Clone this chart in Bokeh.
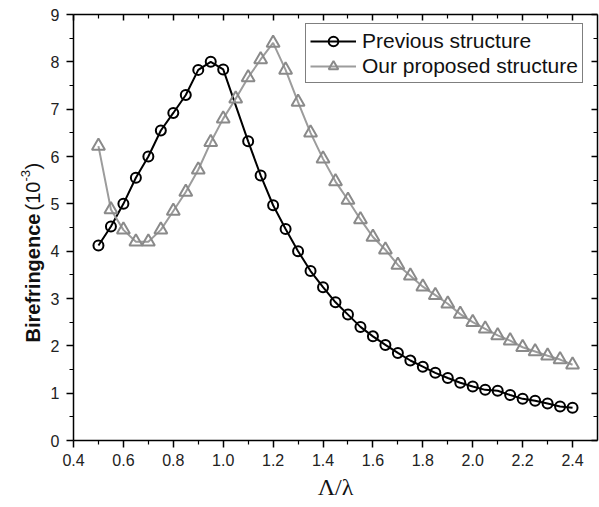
import math
from bokeh.plotting import figure
from bokeh.models import (Range1d, LinearAxis, FixedTicker, PrintfTickFormatter,
                          Legend, LegendItem, Label, CustomLabelingPolicy)
from bokeh.embed import file_html
from bokeh.resources import INLINE

# ---- data ----
x_prev = [0.50, 0.55, 0.60, 0.65, 0.70, 0.75, 0.80, 0.85, 0.90, 0.95, 1.00,
          1.10, 1.15, 1.20, 1.25, 1.30, 1.35, 1.40, 1.45, 1.50, 1.55, 1.60,
          1.65, 1.70, 1.75, 1.80, 1.85, 1.90, 1.95, 2.00, 2.05, 2.10, 2.15,
          2.20, 2.25, 2.30, 2.35, 2.40]
y_prev = [4.12, 4.52, 5.00, 5.55, 6.00, 6.55, 6.92, 7.30, 7.83, 8.00, 7.84,
          6.32, 5.60, 4.97, 4.47, 4.00, 3.58, 3.24, 2.92, 2.66, 2.40, 2.20,
          2.02, 1.85, 1.69, 1.56, 1.43, 1.32, 1.22, 1.14, 1.07, 1.05, 0.96,
          0.88, 0.84, 0.78, 0.72, 0.69]

x_prop = [0.50, 0.55, 0.60, 0.65, 0.70, 0.75, 0.80, 0.85, 0.90, 0.95, 1.00,
          1.05, 1.10, 1.15, 1.20, 1.25, 1.30, 1.35, 1.40, 1.45, 1.50, 1.55,
          1.60, 1.65, 1.70, 1.75, 1.80, 1.85, 1.90, 1.95, 2.00, 2.05, 2.10,
          2.15, 2.20, 2.25, 2.30, 2.35, 2.40]
y_prop = [6.22, 4.88, 4.45, 4.20, 4.20, 4.45, 4.85, 5.25, 5.72, 6.30, 6.80,
          7.22, 7.67, 8.05, 8.40, 7.83, 7.15, 6.50, 5.95, 5.47, 5.08, 4.67,
          4.30, 4.03, 3.71, 3.48, 3.25, 3.07, 2.89, 2.67, 2.50, 2.36, 2.22,
          2.11, 1.97, 1.88, 1.79, 1.71, 1.60]

series_labels = ["Previous structure", "Our proposed structure"]
x_ticks = [0.4, 0.6, 0.8, 1.0, 1.2, 1.4, 1.6, 1.8, 2.0, 2.2, 2.4]
x_minor = [0.5, 0.7, 0.9, 1.1, 1.3, 1.5, 1.7, 1.9, 2.1, 2.3]
y_ticks = [0, 1, 2, 3, 4, 5, 6, 7, 8, 9]
y_minor = [0.5, 1.5, 2.5, 3.5, 4.5, 5.5, 6.5, 7.5, 8.5]
x_title = "Λ/λ"
y_title_parts = ["Birefringence", "(10", "-3", ")"]

FONT = "Liberation Sans"

# ---- layout (pixels) ----
W, H = 599, 507
PX_L, PX_R, PX_T, PX_B = 73, 597, 14, 440
X0, X1, Y0, Y1 = 0.4, 2.5, 0.0, 9.0
SX = (PX_R - PX_L) / (X1 - X0)
SY = (PX_B - PX_T) / (Y1 - Y0)

def dx(px):
    return X0 + (px - PX_L) / SX

def dy(py):
    return Y0 + (PX_B - py) / SY

# the frame covers the whole canvas; axes are pinned at the box edges
p = figure(width=W, height=H, output_backend="svg", toolbar_location=None,
           x_range=Range1d(dx(0), dx(W)), y_range=Range1d(dy(H), dy(0)),
           x_axis_location=None, y_axis_location=None,
           min_border_left=0, min_border_right=0, min_border_top=0,
           min_border_bottom=0)
p.grid.visible = False
p.outline_line_color = None
p.background_fill_color = "white"
p.border_fill_color = "white"

xt = FixedTicker(ticks=x_ticks, minor_ticks=x_minor)
yt = FixedTicker(ticks=y_ticks, minor_ticks=y_minor)

def style(ax):
    ax.axis_line_color = "black"
    ax.axis_line_width = 1.5
    ax.major_tick_line_color = "black"
    ax.major_tick_line_width = 1.5
    ax.minor_tick_line_color = "black"
    ax.minor_tick_line_width = 1.2

bottom = LinearAxis(ticker=xt, formatter=PrintfTickFormatter(format="%.1f"),
                    axis_label=x_title, fixed_location=Y0, bounds=(X0, X1))
style(bottom)
bottom.major_tick_out = 7
bottom.major_tick_in = 0
bottom.minor_tick_out = 4
bottom.minor_tick_in = 0
bottom.major_label_text_font = FONT
bottom.major_label_text_font_size = "16px"
bottom.major_label_text_color = "#222222"
bottom.major_label_standoff = 6
bottom.axis_label_text_font = "Liberation Serif"
bottom.axis_label_text_font_size = "24px"
bottom.axis_label_text_font_style = "normal"
bottom.axis_label_text_color = "#111111"
bottom.axis_label_standoff = 5
p.add_layout(bottom, "below")

left = LinearAxis(ticker=yt, fixed_location=X0, bounds=(Y0, Y1))
style(left)
left.major_tick_out = 7
left.major_tick_in = 0
left.minor_tick_out = 4
left.minor_tick_in = 0
left.major_label_text_font = FONT
left.major_label_text_font_size = "16px"
left.major_label_text_color = "#222222"
left.major_label_standoff = 7
p.add_layout(left, "left")

no_labels = CustomLabelingPolicy(code="for (const i of indices) { if (i < 0) yield i }")
for loc, tk, fl, bd in (("above", xt, Y1, (X0, X1)), ("right", yt, X1, (Y0, Y1))):
    ax = LinearAxis(ticker=tk, fixed_location=fl, bounds=bd)
    style(ax)
    ax.major_tick_in = 6
    ax.major_tick_out = 0
    ax.minor_tick_in = 4
    ax.minor_tick_out = 0
    ax.major_label_policy = no_labels
    ax.major_label_standoff = 0
    p.add_layout(ax, loc)

# series
l1 = p.line(x_prev, y_prev, line_color="black", line_width=2)
s1 = p.scatter(x_prev, y_prev, marker="circle", size=10, fill_color=None,
               line_color="black", line_width=2)
l2 = p.line(x_prop, y_prop, line_color="#9c9c9c", line_width=2)
s2 = p.scatter(x_prop, y_prop, marker="triangle", size=13, fill_color=None,
               line_color="#8a8a8a", line_width=2)

legend = Legend(items=[LegendItem(label=series_labels[0], renderers=[l1, s1]),
                       LegendItem(label=series_labels[1], renderers=[l2, s2])],
                location=(305, H - 83))
legend.border_line_color = "black"
legend.border_line_width = 1.5
legend.background_fill_color = "white"
legend.background_fill_alpha = 1
legend.padding = 4
legend.spacing = 0
legend.margin = 0
legend.glyph_width = 46
legend.glyph_height = 24
legend.label_height = 25
legend.label_standoff = 6
legend.label_text_font = FONT
legend.label_text_font_size = "21px"
legend.label_text_color = "#111111"
p.add_layout(legend, "center")

# y-axis title made of several pieces (bold word, normal unit, superscript)
def y_label(text, px, py, size, bold=False):
    lab = Label(x=dx(px), y=dy(py), x_units="data", y_units="data", text=text,
                angle=math.pi / 2, text_align="left", text_baseline="middle",
                text_font=FONT, text_font_size=size,
                text_font_style="bold" if bold else "normal",
                text_color="#111111")
    p.add_layout(lab)

y_label(y_title_parts[0], 32, 342, "20px", bold=True)
y_label(y_title_parts[1], 32, 210, "20px")
y_label(y_title_parts[2], 25, 181, "13px")
y_label(y_title_parts[3], 32, 169, "20px")

open("out.html", "w").write(file_html(p, INLINE))
